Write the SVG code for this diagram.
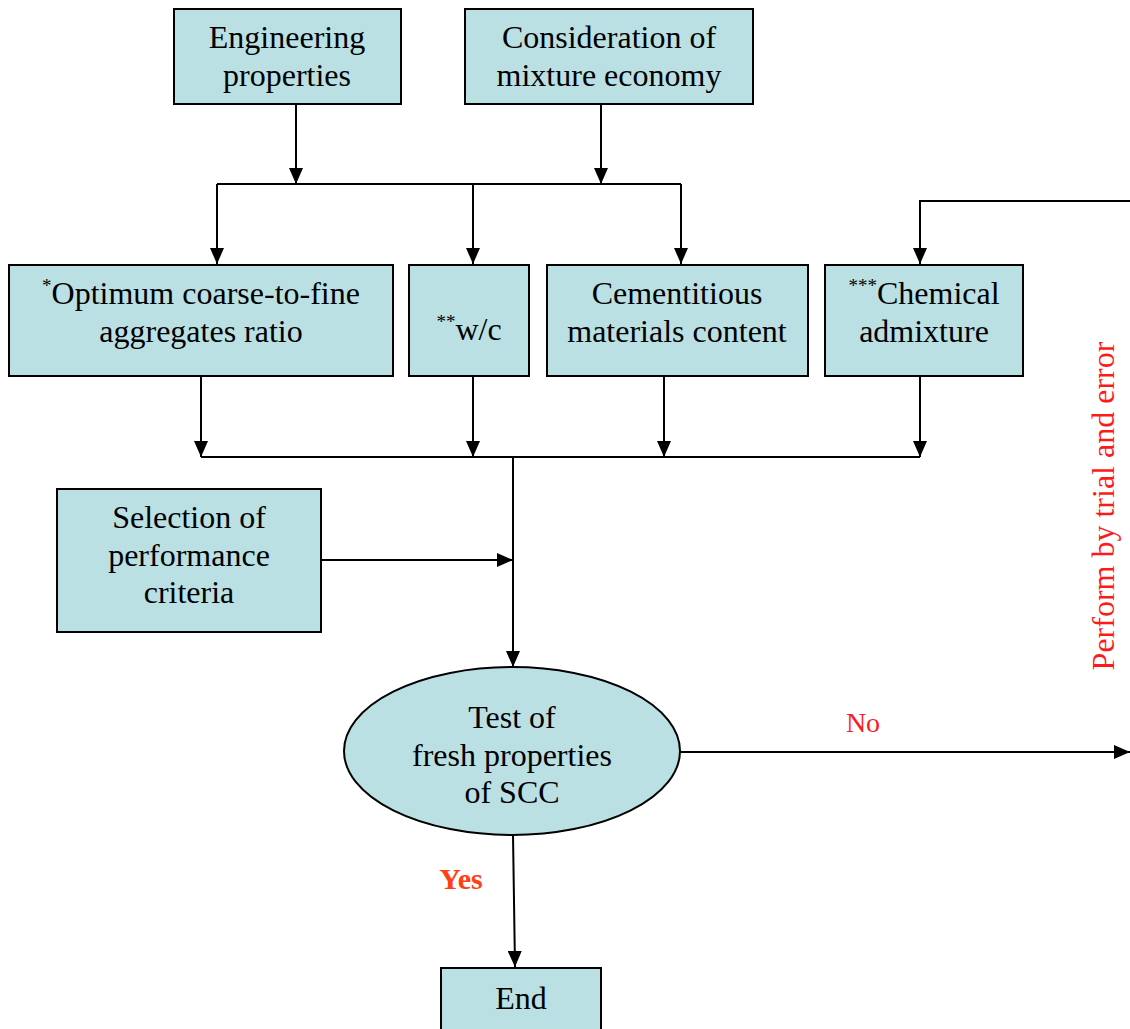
<svg xmlns="http://www.w3.org/2000/svg" width="1130" height="1029" viewBox="0 0 1130 1029">
<defs>
<marker id="ah" markerWidth="16" markerHeight="14" viewBox="0 0 16 14" refX="16" refY="7" orient="auto" markerUnits="userSpaceOnUse">
<path d="M0,0 L16,7 L0,14 z" fill="#000"/>
</marker>
<style>
.box{fill:#BAE0E3;stroke:#000;stroke-width:2}
.t{font-family:"Liberation Serif","Times New Roman",serif;font-size:32px;fill:#000;text-anchor:middle}
.sup{font-size:19px}
.ln{fill:none;stroke:#000;stroke-width:2}
.red{font-family:"Liberation Serif","Times New Roman",serif;fill:#FF1A1A}
</style>
</defs>
<rect width="1130" height="1029" fill="#fff"/>
<g id="n-eng"><rect class="box" x="174" y="9" width="227" height="95"/>
<text class="t" x="287" y="48">Engineering</text><text class="t" x="287" y="86">properties</text></g>
<g id="n-econ"><rect class="box" x="465" y="9" width="288" height="95"/>
<text class="t" x="609" y="48">Consideration of</text><text class="t" x="609" y="86">mixture economy</text></g>
<g id="n-opt"><rect class="box" x="9" y="265" width="384" height="111"/>
<text class="t" x="201" y="304"><tspan class="sup" dy="-12">*</tspan><tspan dy="12">Optimum coarse-to-fine</tspan></text>
<text class="t" x="201" y="342">aggregates ratio</text></g>
<g id="n-wc"><rect class="box" x="409" y="265" width="120" height="111"/>
<text class="t" x="469" y="340"><tspan class="sup" dy="-12">**</tspan><tspan dy="12">w/c</tspan></text></g>
<g id="n-cem"><rect class="box" x="547" y="265" width="261" height="111"/>
<text class="t" x="677" y="304">Cementitious</text><text class="t" x="677" y="342">materials content</text></g>
<g id="n-chem"><rect class="box" x="825" y="265" width="198" height="111"/>
<text class="t" x="924" y="304"><tspan class="sup" dy="-12">***</tspan><tspan dy="12">Chemical</tspan></text>
<text class="t" x="924" y="342">admixture</text></g>
<g id="n-sel"><rect class="box" x="57" y="489" width="264" height="143"/>
<text class="t" x="189" y="528">Selection of</text><text class="t" x="189" y="566">performance</text><text class="t" x="189" y="603">criteria</text></g>
<g id="n-test"><ellipse class="box" cx="512" cy="751" rx="168" ry="84"/>
<text class="t" x="512" y="728">Test of</text><text class="t" x="512" y="766">fresh properties</text><text class="t" x="512" y="803">of SCC</text></g>
<g id="n-end"><rect class="box" x="441" y="968" width="160" height="70"/>
<text class="t" x="521" y="1009">End</text></g>
<g id="connectors">
<path class="ln" d="M296,104 V184" marker-end="url(#ah)"/>
<path class="ln" d="M601,104 V184" marker-end="url(#ah)"/>
<path class="ln" d="M217,184 H681"/>
<path class="ln" d="M217,184 V264" marker-end="url(#ah)"/>
<path class="ln" d="M473,184 V264" marker-end="url(#ah)"/>
<path class="ln" d="M681,184 V264" marker-end="url(#ah)"/>
<path class="ln" d="M1130,201 H920 V264" marker-end="url(#ah)"/>
<path class="ln" d="M201,376 V457" marker-end="url(#ah)"/>
<path class="ln" d="M473,376 V457" marker-end="url(#ah)"/>
<path class="ln" d="M664,376 V457" marker-end="url(#ah)"/>
<path class="ln" d="M920,376 V457" marker-end="url(#ah)"/>
<path class="ln" d="M201,457 H920"/>
<path class="ln" d="M513,457 V667" marker-end="url(#ah)"/>
<path class="ln" d="M321,560 H513" marker-end="url(#ah)"/>
<path class="ln" d="M680,752 H1130" marker-end="url(#ah)"/>
<path class="ln" d="M513,835 L515,967" marker-end="url(#ah)"/>
</g>
<text class="red" x="863" y="732" font-size="28" text-anchor="middle">No</text>
<text x="461" y="889" font-family="Liberation Serif, Times New Roman, serif" font-size="30" font-weight="bold" fill="#FF4010" text-anchor="middle">Yes</text>
<text class="red" x="0" y="0" font-size="32" text-anchor="middle" transform="translate(1114,506) rotate(-90)">Perform by trial and error</text>
</svg>
